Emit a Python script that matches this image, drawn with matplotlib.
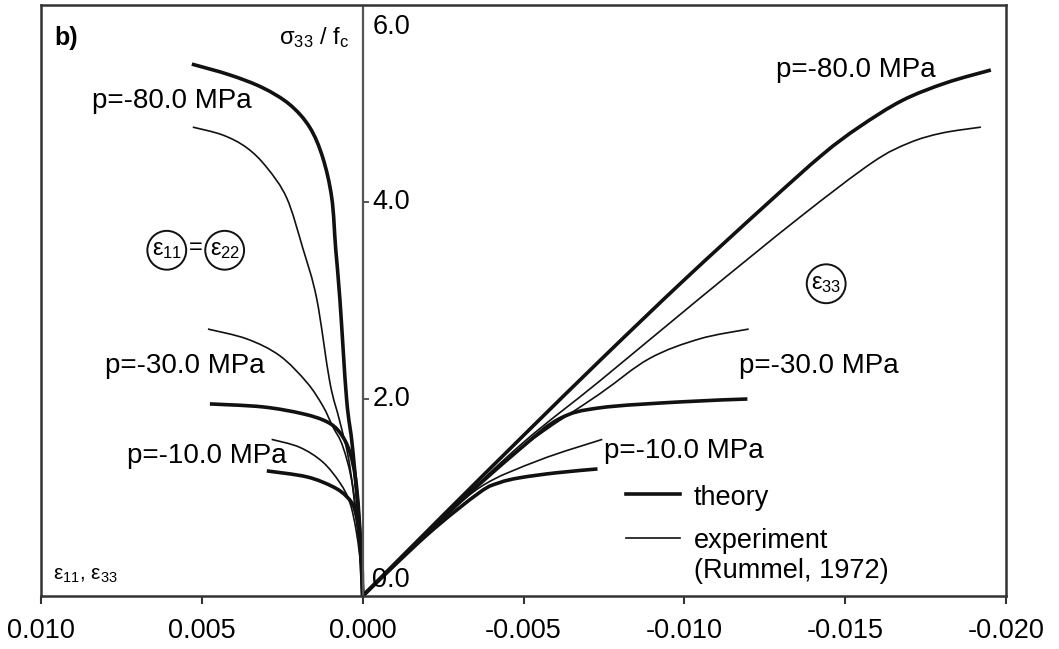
import matplotlib
matplotlib.use("Agg")
import matplotlib.pyplot as plt
from matplotlib.path import Path
from matplotlib.patches import PathPatch

plt.rcParams['font.family'] = ['Liberation Sans', 'DejaVu Sans']
plt.rcParams['mathtext.fontset'] = 'custom'
plt.rcParams['mathtext.rm'] = 'Liberation Sans'
plt.rcParams['mathtext.it'] = 'Liberation Sans'
plt.rcParams['mathtext.default'] = 'rm'

# ---- lateral strain (eps11 = eps22, positive) ----
lat_th80_x = [0.00531, 0.00413, 0.00311, 0.00227, 0.00165, 0.00124, 0.00096, 0.00084, 0.00071, 0.00050, 0.00031, 0.00009, 0.0]
lat_th80_y = [5.40, 5.29, 5.16, 4.99, 4.76, 4.45, 4.04, 3.53, 3.02, 2.00, 1.49, 0.64, 0.0]
lat_ex80_x = [0.00528, 0.00435, 0.00360, 0.00298, 0.00236, 0.00186, 0.00143, 0.00102, 0.00071, 0.00040, 0.00009, 0.0]
lat_ex80_y = [4.76, 4.68, 4.55, 4.35, 4.04, 3.53, 3.02, 2.17, 1.77, 1.32, 0.47, 0.0]
lat_ex30_x = [0.00481, 0.00360, 0.00258, 0.00174, 0.00124, 0.00093, 0.00062, 0.00031, 0.00003, 0.0]
lat_ex30_y = [2.71, 2.61, 2.44, 2.17, 1.93, 1.72, 1.52, 1.11, 0.30, 0.0]
lat_th30_x = [0.00475, 0.00311, 0.00186, 0.00112, 0.00071, 0.00040, 0.00019, 0.00003, 0.0]
lat_th30_y = [1.95, 1.92, 1.85, 1.77, 1.66, 1.46, 1.11, 0.37, 0.0]
lat_ex10_x = [0.00283, 0.00196, 0.00124, 0.00071, 0.00040, 0.00019, 0.00003, 0.0]
lat_ex10_y = [1.59, 1.51, 1.36, 1.15, 0.95, 0.64, 0.23, 0.0]
lat_th10_x = [0.00298, 0.00174, 0.00093, 0.00050, 0.00025, 0.00009, 0.0]
lat_th10_y = [1.27, 1.21, 1.11, 1.01, 0.88, 0.57, 0.0]

# ---- axial strain (eps33, negative) ----
ax_th80_x = [0.0, -0.0025, -0.0050, -0.0075, -0.0100, -0.0125, -0.01429, -0.01543, -0.01677, -0.01814, -0.01953]
ax_th80_y = [0.0, 0.82, 1.63, 2.43, 3.21, 3.96, 4.48, 4.76, 5.03, 5.21, 5.34]
ax_ex80_x = [0.0, -0.0025, -0.0050, -0.00736, -0.01047, -0.01357, -0.01584, -0.01699, -0.01801, -0.01922]
ax_ex80_y = [0.0, 0.80, 1.56, 2.18, 3.02, 3.84, 4.40, 4.60, 4.70, 4.76]
ax_ex30_x = [0.0, -0.0025, -0.0050, -0.00736, -0.00891, -0.01047, -0.01200]
ax_ex30_y = [0.0, 0.80, 1.52, 2.05, 2.41, 2.61, 2.71]
ax_th30_x = [0.0, -0.0025, -0.00488, -0.00612, -0.00736, -0.00984, -0.01196]
ax_th30_y = [0.0, 0.80, 1.49, 1.80, 1.91, 1.97, 2.00]
ax_ex10_x = [0.0, -0.0020, -0.00363, -0.00550, -0.00745]
ax_ex10_y = [0.0, 0.62, 1.10, 1.38, 1.59]
ax_th10_x = [0.0, -0.0020, -0.00363, -0.00425, -0.00488, -0.00600, -0.00730]
ax_th10_y = [0.0, 0.62, 1.05, 1.15, 1.20, 1.25, 1.29]

xticks = [0.010, 0.005, 0.000, -0.005, -0.010, -0.015, -0.020]
xtick_labels = ['0.010', '0.005', '0.000', '-0.005', '-0.010', '-0.015', '-0.020']
yticks = [0.0, 2.0, 4.0, 6.0]
ytick_labels = ['0.0', '2.0', '4.0', '6.0']

THICK = 2.6
THIN = 1.2
INK = '#111111'


def smooth_curve(ax, xs, ys, lw):
    """Draw a curve through the given points as a chain of cubic Bezier segments."""
    pts = list(zip(xs, ys))
    n = len(pts)
    verts = [pts[0]]
    codes = [Path.MOVETO]
    for i in range(n - 1):
        p0 = pts[i - 1] if i > 0 else pts[i]
        p1 = pts[i]
        p2 = pts[i + 1]
        p3 = pts[i + 2] if i + 2 < n else pts[i + 1]
        c1 = (p1[0] + (p2[0] - p0[0]) / 6.0, p1[1] + (p2[1] - p0[1]) / 6.0)
        c2 = (p2[0] - (p3[0] - p1[0]) / 6.0, p2[1] - (p3[1] - p1[1]) / 6.0)
        verts += [c1, c2, p2]
        codes += [Path.CURVE4, Path.CURVE4, Path.CURVE4]
    ax.add_patch(PathPatch(Path(verts, codes), fill=False, ec=INK, lw=lw,
                           capstyle='butt', joinstyle='round'))


fig = plt.figure(figsize=(10.59, 6.49), dpi=100)
ax = fig.add_axes([41 / 1059, 53 / 649, 965 / 1059, 591 / 649])
ax.set_xlim(0.010, -0.020)
ax.set_ylim(0.0, 6.0)

thick_sets = [(lat_th80_x, lat_th80_y), (lat_th30_x, lat_th30_y), (lat_th10_x, lat_th10_y),
              (ax_th80_x, ax_th80_y), (ax_th30_x, ax_th30_y), (ax_th10_x, ax_th10_y)]
thin_sets = [(lat_ex80_x, lat_ex80_y), (lat_ex30_x, lat_ex30_y), (lat_ex10_x, lat_ex10_y),
             (ax_ex80_x, ax_ex80_y), (ax_ex30_x, ax_ex30_y), (ax_ex10_x, ax_ex10_y)]
for xs, ys in thick_sets:
    smooth_curve(ax, xs, ys, THICK)
for xs, ys in thin_sets:
    smooth_curve(ax, xs, ys, THIN)

# frame
for s in ax.spines.values():
    s.set_linewidth(1.8)
    s.set_color('#333333')

# x axis ticks
ax.set_xticks(xticks)
ax.set_xticklabels(xtick_labels, fontsize=19.5)
ax.tick_params(axis='x', direction='out', length=6, width=1.5, pad=10, color='#333333')
ax.set_yticks([])

# central vertical axis with its own ticks and labels
ax.axvline(0.0, color='#555555', lw=1.6)
for yv, lab in zip(yticks, ytick_labels):
    if yv in (2.0, 4.0):
        ax.plot([0.0, -0.00018], [yv, yv], color='#555555', lw=1.4)
        ax.text(-0.00030, yv, lab, fontsize=19.5, ha='left', va='center')
    elif yv == 6.0:
        ax.text(-0.00030, yv - 0.09, lab, fontsize=19.5, ha='left', va='top')
    else:
        ax.text(-0.00030, yv + 0.03, lab, fontsize=19.5, ha='left', va='bottom')

# annotations
ax.text(0.00957, 5.67, 'b)', fontsize=18, fontweight='bold', ha='left', va='center')
ax.text(0.0026, 5.67, r'σ$_{33}$ / f$_c$', fontsize=17, ha='left', va='center')
ax.text(0.00593, 5.03, 'p=-80.0 MPa', fontsize=20, ha='center', va='center')
ax.text(0.00553, 2.33, 'p=-30.0 MPa', fontsize=20, ha='center', va='center')
ax.text(0.00484, 1.42, 'p=-10.0 MPa', fontsize=20, ha='center', va='center')
ax.text(-0.01534, 5.34, 'p=-80.0 MPa', fontsize=20, ha='center', va='center')
ax.text(-0.01419, 2.34, 'p=-30.0 MPa', fontsize=20, ha='center', va='center')
ax.text(-0.00997, 1.47, 'p=-10.0 MPa', fontsize=20, ha='center', va='center')

circ = dict(boxstyle='circle,pad=0.18', fc='white', ec=INK, lw=1.4)
ax.text(0.00609, 3.51, r'ε$_{11}$', fontsize=17, ha='center', va='center', bbox=circ)
ax.text(0.00429, 3.51, r'ε$_{22}$', fontsize=17, ha='center', va='center', bbox=circ)
ax.text(0.00519, 3.53, '=', fontsize=17, ha='center', va='center')
ax.text(-0.01441, 3.17, r'ε$_{33}$', fontsize=17, ha='center', va='center', bbox=circ)

ax.text(0.00963, 0.21, r'ε$_{11}$, ε$_{33}$', fontsize=15, ha='left', va='center')

# legend drawn by hand
ax.plot([-0.00820, -0.00985], [1.04, 1.04], color=INK, lw=THICK)
ax.plot([-0.00820, -0.00985], [0.59, 0.59], color=INK, lw=THIN)
ax.text(-0.01030, 0.99, 'theory', fontsize=19.5, ha='left', va='center')
ax.text(-0.01030, 0.56, 'experiment', fontsize=19.5, ha='left', va='center')
ax.text(-0.01030, 0.25, '(Rummel, 1972)', fontsize=19.5, ha='left', va='center')

fig.savefig('out.png', dpi=100)
